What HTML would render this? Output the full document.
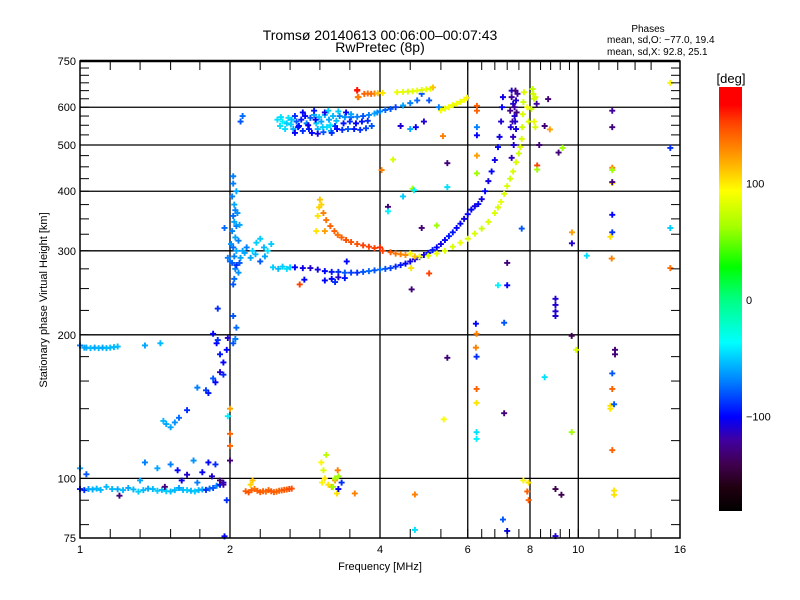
<!DOCTYPE html>
<html><head><meta charset="utf-8">
<style>
html,body{margin:0;padding:0;background:#fff;}
svg{display:block;font-family:"Liberation Sans",sans-serif;}
</style></head>
<body>
<svg id="chart" width="800" height="600" viewBox="0 0 800 600" xmlns="http://www.w3.org/2000/svg">
<defs>
<linearGradient id="cbgrad" x1="0" y1="0" x2="0" y2="1">
<stop offset="0" stop-color="#ff0000"/>
<stop offset="0.042" stop-color="#ff0000"/>
<stop offset="0.083" stop-color="#ff4000"/>
<stop offset="0.167" stop-color="#ffa000"/>
<stop offset="0.244" stop-color="#ffff00"/>
<stop offset="0.333" stop-color="#a0ff00"/>
<stop offset="0.425" stop-color="#00ff00"/>
<stop offset="0.5" stop-color="#00ff80"/>
<stop offset="0.603" stop-color="#00ffff"/>
<stop offset="0.694" stop-color="#0080ff"/>
<stop offset="0.778" stop-color="#0000ff"/>
<stop offset="0.833" stop-color="#4000a0"/>
<stop offset="0.889" stop-color="#400050"/>
<stop offset="0.944" stop-color="#200010"/>
<stop offset="1" stop-color="#000000"/>
</linearGradient>
</defs>
<text x="380" y="40" font-size="14" text-anchor="middle">Tromsø 20140613 00:06:00–00:07:43</text>
<text x="380" y="52" font-size="14" text-anchor="middle">RwPretec (8p)</text>
<text x="648" y="32" font-size="10" text-anchor="middle">Phases</text>
<text x="607" y="43" font-size="10">mean, sd,O: −77.0, 19.4</text>
<text x="607" y="55" font-size="10">mean, sd,X:  92.8, 25.1</text>
<g id="grid"></g>
<g id="marks"></g>
<g id="axes"></g>
<text x="380" y="570" font-size="11" text-anchor="middle">Frequency [MHz]</text>
<text transform="translate(47,300) rotate(-90)" font-size="11" text-anchor="middle">Stationary phase Virtual Height [km]</text>
<rect x="719" y="87" width="23" height="424" fill="url(#cbgrad)"/>
<text x="731" y="83" font-size="13" text-anchor="middle">[deg]</text>
<g id="cbticks"></g>
</svg>
<script>
const xTickValues=[1,2,4,6,8,10,16];
const xMinorTicks=[1.15,1.32,1.52,1.74,2.3,2.64,3.03,3.48,4.6,5.3,6.4,6.8,7.2,7.6,8.4,8.8,9.2,9.6,11,12,13,14];
const yTickValues=[75,100,200,300,400,500,600,750];
const yGridValues=[100,200,300,400,500,600];
const xGridValues=[2,4,6,8,10];
const yMinorTicks=[80,90,120,140,160,180,225,250,275,325,350,375,425,450,475,525,550,575,625,650,675,700,725];
const cbTickValues=[100,0,-100];

// [freq MHz, height km, phase deg]
const eLayerTrace=[[1.00,95,-95],[1.02,94.5,-90],[1.04,95,-60],[1.06,94.8,-58],[1.08,95.2,-55],[1.10,94.6,-55],[1.13,96,-55],[1.16,95,-55],[1.19,94.9,-58],[1.22,94.5,-55],[1.25,95.5,-60],[1.28,94.8,-55],[1.31,93.8,-50],[1.34,94.5,-55],[1.37,95.2,-60],[1.40,95,-55],[1.43,94.2,-50],[1.46,94.6,-55],[1.49,94,-50],[1.52,93.9,-55],[1.55,94.5,-55],[1.58,95.5,-60],[1.61,94.6,-55],[1.64,94.5,-50],[1.67,94.2,-55],[1.70,93.9,-50],[1.73,94.5,-55],[1.76,94.8,-60],[1.79,94.6,-90],[1.82,95.2,-75],[1.85,95.5,-80],[1.88,96.5,-70],[1.91,97,-95],[1.94,98,-110]];
const eScatter=[[1.43,105,-60],[1.52,107,-70],[1.57,104,-100],[1.64,101.8,-110],[1.69,109,-65],[1.72,98,-70],[1.81,108,-100],[1.87,107,-90],[1.84,101,-110],[1.91,99,-130],[1.94,97,-120],[1.35,108,-70],[1.32,99,-60],[1.20,92,-130],[1.48,96,-130],[1.0,105,-60],[1.03,102,-80],[1.76,103,-100],[1.6,99,-105],[1.97,90,-90],[1.95,75.6,-100]];
const eOrangeTrace=[[2.15,94,140],[2.18,93.5,145],[2.21,94.5,140],[2.24,95,135],[2.27,94.2,140],[2.30,93.6,142],[2.33,94,140],[2.36,93.8,138],[2.39,94.5,140],[2.42,94,142],[2.45,93.6,140],[2.48,93.8,140],[2.51,94.2,138],[2.54,94.4,140],[2.57,94.6,145],[2.60,94.8,140],[2.63,95,148],[2.66,95.2,145],[2.2,97,105],[2.22,99,110]];
const esYellow=[[3.05,108,95],[3.08,104,80],[3.1,100,100],[3.06,98,95],[3.15,97,100],[3.2,96,115],[3.12,112,70],[3.25,99,120],[3.3,101,60],[3.35,98,-90],[3.28,93,100],[3.56,93,130],[3.29,104,130]];
const h190Trace=[[1.00,190,-70],[1.02,188,-60],[1.03,188,-60],[1.05,187.5,-55],[1.07,188,-60],[1.09,187.5,-55],[1.11,188,-60],[1.13,187.5,-55],[1.15,188,-55],[1.17,188.5,-55],[1.19,189,-55],[1.35,190,-60],[1.45,192,-55]];
const diagonalTrace=[[1.49,130,-60],[1.47,132,-55],[1.52,128,-60],[1.55,131,-65],[1.58,134,-75],[1.64,139,-90],[1.72,155,-70],[1.79,153,-85],[1.81,151,-95],[1.85,162,-80],[1.87,159,-100],[1.91,167,-110],[1.94,165,-90],[1.94,175,-100],[1.91,182,-95],[1.88,192,-100],[1.89,195,-90],[1.97,186,-100],[1.85,201,-100],[1.98,197,-110],[2.03,192,-80],[2.05,196,-70],[2.06,207,-75],[2.03,219,-80],[1.89,227,-90]];
const fCuspTrace=[[2.03,430,-70],[2.03,415,-70],[2.06,400,-60],[2.02,390,-70],[2.04,375,-60],[2.05,365,-70],[2.03,355,-75],[2.04,345,-60],[2.06,338,-70],[2.02,330,-70],[2.05,320,-60],[2.08,315,-70],[2.03,305,-75],[2.06,300,-60],[2.04,292,-70],[2.10,290,-60],[2.02,283,-80],[2.05,275,-70],[2.08,270,-65],[2.04,262,-75],[2.03,255,-80],[2.06,280,-90],[2.12,300,-60],[2.14,297,-60],[2.16,305,-70],[2.0,285,-75],[1.98,290,-70],[2.09,283,-80],[2.22,300,-50],[2.26,312,-50],[2.3,318,-50],[2.34,305,-55],[2.38,300,-45],[2.42,310,-50],[2.2,290,-60],[2.3,285,-80],[2.44,277,-50],[2.5,275,-55],[2.55,278,-50],[2.6,275,-45],[2.64,277,-50],[2.07,360,-65],[2.09,340,-60],[2.01,310,-65],[2.25,295,-55],[2.35,292,-60]];
const oTrace=[[2.70,277,-100],[2.80,276,-105],[2.90,276,-110],[3.0,274,-105],[3.1,272,-100],[3.2,271,-95],[3.3,271,-90],[3.4,270,-80],[3.5,270,-85],[3.6,270,-90],[3.7,271,-80],[3.8,272,-75],[3.9,273,-80],[4.0,274,-75],[4.1,275,-80],[4.2,276,-85],[4.3,278,-90],[4.4,280,-95],[4.5,282,-100],[4.6,285,-105],[4.7,288,-110],[4.8,291,-110],[4.9,294,-105],[5.0,297,-100],[5.1,301,-95],[5.2,305,-100],[5.3,310,-105],[5.4,316,-100],[5.5,322,-95],[5.6,328,-95],[5.7,335,-100],[5.8,342,-100],[5.9,350,-105],[6.0,358,-100],[6.1,366,-100],[6.2,372,-105],[6.3,376,-100],[6.4,385,-105],[6.5,400,-100],[6.6,420,-105],[6.7,440,-100],[6.8,465,-105],[6.9,495,-100],[6.95,520,-105],[7.0,560,-110],[7.03,600,-100],[7.06,630,-105],[3.2,262,-100],[3.3,264,-110],[3.4,263,-95],[3.1,260,-100],[3.25,258,-90]];
const xTrace=[[4.6,296,90],[4.8,292,85],[5.0,293,80],[5.2,296,85],[5.4,300,80],[5.6,306,80],[5.8,312,85],[6.0,318,80],[6.2,326,80],[6.4,334,75],[6.6,345,80],[6.8,360,80],[6.9,370,80],[7.0,380,85],[7.1,395,80],[7.2,410,80],[7.3,425,75],[7.4,440,80],[7.5,460,80],[7.6,480,75],[7.65,495,80],[7.7,515,80],[7.72,545,75],[7.74,580,80],[7.76,615,75],[7.78,645,80],[4.2,298,140],[4.3,296,135],[4.4,295,130],[4.5,294,125],[4.7,292,110]];
const orangeTrace=[[3.03,384,110],[3.05,375,105],[3.08,360,130],[3.12,348,135],[3.18,338,140],[3.24,330,140],[3.29,324,135],[3.35,320,140],[3.42,316,145],[3.5,313,145],[3.6,310,145],[3.7,308,150],[3.8,306,150],[3.9,304,150],[4.0,305,155],[4.05,300,150],[2.98,330,100],[3.0,355,100],[3.02,370,105],[3.1,330,120]];
const upperBand=[[2.49,565,-45],[2.52,548,-45],[2.55,560,-40],[2.58,540,-45],[2.62,570,-45],[2.65,552,-50],[2.68,540,-60],[2.70,575,-90],[2.72,560,-80],[2.75,548,-100],[2.78,565,-95],[2.80,535,-90],[2.83,575,-100],[2.85,555,-70],[2.88,540,-95],[2.90,570,-80],[2.92,530,-100],[2.95,578,-60],[2.98,555,-50],[3.00,540,-55],[3.02,572,-50],[3.05,560,-60],[3.08,532,-80],[3.10,578,-55],[3.13,545,-45],[3.16,565,-60],[3.19,535,-60],[3.22,575,-55],[3.25,548,-90],[3.28,540,-100],[3.32,575,-70],[3.36,538,-90],[3.40,572,-65],[3.45,540,-80],[3.50,572,-75],[3.55,540,-95],[3.60,573,-70],[3.65,538,-90],[3.70,575,-80],[3.75,542,-85],[3.80,578,-70],[3.85,548,-80],[3.90,582,-60],[3.95,585,-65],[4.0,588,-70],[4.1,592,-75],[4.2,595,-80],[4.3,600,-85],[4.45,605,-60],[4.6,612,-70],[4.75,620,-75],[4.85,640,-80],[2.8,585,-100],[2.95,590,-95],[3.1,585,-105],[3.3,588,-50],[3.5,580,-60],[2.7,530,-100],[3.0,528,-105],[3.2,530,-90],[2.6,555,-50],[2.74,545,-95],[2.87,550,-105],[2.97,565,-100],[3.07,545,-50],[3.18,550,-45],[3.27,562,-55],[3.38,555,-95],[3.48,560,-90],[3.58,555,-100],[3.68,560,-95],[3.78,562,-90],[2.53,572,-45],[2.66,565,-55],[3.15,590,-50],[3.42,585,-100]];
const topLine=[[3.72,640,140],[3.78,641,135],[3.84,640,140],[3.9,641,130],[3.96,642,110],[4.05,643,100],[4.33,645,85],[4.45,646,85],[4.55,647,80],[4.65,648,82],[4.75,650,85],[4.85,652,80],[4.95,654,85],[5.05,656,80],[5.11,660,110],[3.6,650,160],[3.62,630,140]];
const xUpperLine=[[5.3,591,90],[5.4,596,85],[5.5,600,90],[5.6,606,85],[5.7,610,90],[5.8,616,85],[5.9,622,90],[5.98,628,95]];
const columnPoints=[[7.35,650,-110],[7.35,630,-120],[7.4,610,-110],[7.3,590,-125],[7.45,575,-110],[7.38,560,-120],[7.32,545,-110],[7.4,520,-115],[7.42,500,-110],[7.48,650,-130],[7.5,620,-110],[7.45,600,-120],[7.52,585,-130],[7.47,560,-110],[7.35,470,-115],[7.55,640,-120],[7.5,540,-105],[8.1,655,70],[8.12,640,75],[8.15,625,70],[8.2,630,80],[8.05,595,75],[8.15,560,85],[8.2,545,80],[8.25,610,-120],[8.35,500,-130],[7.9,600,90],[7.95,560,80]];
const scatterPoints=[[15.3,675,95],[15.3,493,-90],[15.3,335,-50],[15.3,276,135],[11.7,590,-120],[11.7,545,-130],[11.7,448,130],[11.7,416,100],[11.7,114.6,140],[11.8,94.3,100],[11.85,186,-130],[11.7,166,-80],[11.6,142,100],[8.7,624,-130],[8.56,548,-130],[8.77,539,120],[9.3,493,60],[9.13,482,-130],[8.27,453,150],[8.27,444,60],[7.7,334,-80],[9.71,328,120],[9.71,311,-110],[10.4,293,-45],[11.67,289,130],[11.7,328,-90],[11.6,321,100],[11.7,357,-100],[11.7,418,-130],[11.7,443,60],[7.2,283,-130],[6.9,254,-40],[7.2,254,-100],[9.0,238,-110],[9.0,231,-110],[9.0,224,-110],[9.0,219,-110],[6.23,211,-100],[6.25,201,130],[6.23,188,130],[6.25,180,-90],[5.46,179,-130],[7.1,212,-80],[9.7,199,-140],[9.9,186,80],[11.85,182,-130],[8.56,163,-45],[6.25,154,140],[6.25,144,100],[7.1,137,-130],[5.37,133,90],[6.25,125,-45],[6.25,121,-40],[9.7,125,60],[11.7,154,140],[11.8,143,-80],[11.6,140,100],[7.76,99,95],[7.9,93.9,140],[9.0,95,-140],[11.8,92.4,100],[7.06,82,-80],[9.0,75.7,-110],[6.26,604,140],[6.26,590,140],[6.26,545,-70],[6.26,524,-100],[6.26,475,120],[6.26,436,60],[5.46,458,-130],[5.46,408,-45],[5.35,522,130],[4.25,466,80],[4.03,443,130],[4.15,371,-130],[4.15,363,-40],[4.45,390,-50],[4.65,405,60],[4.68,402,-40],[4.85,335,-130],[5.2,339,60],[4.63,249,-130],[5.02,269,150],[4.62,276,100],[2.76,255,150],[2.82,261,-100],[3.43,285,-100],[4.72,545,-100],[3.6,652,160],[3.61,630,130],[4.7,92.5,130],[4.7,78,-45],[7.2,77.6,-100],[7.95,98,100],[7.95,90,140],[9.25,92.4,-140],[3.28,93,100],[3.25,100,60],[3.22,96,60],[3.3,95,-100],[2.0,140,120],[2.0,124,140],[2.0,117,140],[2.0,109,-130],[1.98,135,-40],[2.1,560,-80],[2.12,575,-75],[1.95,335,-75],[5.02,620,-80],[5.25,600,-70],[4.9,560,-110],[4.6,540,-60],[4.4,548,-110]];

const X0=80,X1=680,Y0=538,Y1=61;
function xScale(f){return X0+(X1-X0)*Math.log2(f)/4;}
function yScale(h){return Y0-(Y0-Y1)*Math.log10(h/75);}
const cStops=[[-180,[0,0,0]],[-160,[32,0,16]],[-140,[64,0,80]],[-120,[64,0,160]],[-100,[0,0,255]],[-70,[0,128,255]],[-37,[0,255,255]],[0,[0,255,128]],[27,[0,255,0]],[60,[160,255,0]],[92,[255,255,0]],[120,[255,160,0]],[150,[255,64,0]],[165,[255,0,0]],[180,[255,0,0]]];
function colorFor(p){
  p=Math.max(-180,Math.min(180,p));
  for(let i=0;i<cStops.length-1;i++){
    const a=cStops[i],b=cStops[i+1];
    if(p>=a[0]&&p<=b[0]){const t=(p-a[0])/(b[0]-a[0]);
      const c=a[1].map((v,k)=>Math.round(v+(b[1][k]-v)*t));return 'rgb('+c.join(',')+')';}
  }
  return '#000';
}
const NS='http://www.w3.org/2000/svg';
function mk(tag,attrs,parent){const e=document.createElementNS(NS,tag);for(const k in attrs)e.setAttribute(k,attrs[k]);parent.appendChild(e);return e;}
const grid=document.getElementById('grid'),axes=document.getElementById('axes'),marks=document.getElementById('marks'),cbt=document.getElementById('cbticks');

xGridValues.forEach(v=>{const x=xScale(v);
  const l=mk('line',{x1:x,y1:Y1,x2:x,y2:Y0,stroke:'#000','stroke-width':1.3},grid);
  
  });
yGridValues.forEach(v=>{const y=yScale(v);
  const l=mk('line',{x1:X0,y1:y,x2:X1,y2:y,stroke:'#000','stroke-width':1.3},grid);
  
  });

const groups=[['e-layer-trace',eLayerTrace],['e-scatter',eScatter],['e-orange-trace',eOrangeTrace],['es-yellow',esYellow],['h190-trace',h190Trace],['diagonal-trace',diagonalTrace],['f-cusp-trace',fCuspTrace],['o-mode-trace',oTrace],['x-mode-trace',xTrace],['orange-trace',orangeTrace],['upper-band',upperBand],['top-line',topLine],['x-upper-line',xUpperLine],['column-points',columnPoints],['scatter-points',scatterPoints]];
groups.forEach(([name,arr])=>{
  const g=mk('g',{},marks);
  
  
  arr.forEach(pt=>{const x=xScale(pt[0]),y=yScale(pt[1]);
    const p=mk('path',{d:'M'+(x-3)+' '+y+'h6M'+x+' '+(y-3)+'v6',stroke:colorFor(pt[2]),'stroke-width':1.9,fill:'none'},g);
    
    });
});

const frame=mk('rect',{x:X0,y:Y1,width:X1-X0,height:Y0-Y1,fill:'none',stroke:'#000','stroke-width':1.5},axes);


mk('line',{x1:X0,y1:Y1,x2:X1,y2:Y1,stroke:'#000','stroke-width':2.5},axes);
xTickValues.concat(xMinorTicks).forEach(v=>{const x=xScale(v);
  mk('line',{x1:x,y1:Y0,x2:x,y2:Y0-9,stroke:'#000','stroke-width':1},axes);
  mk('line',{x1:x,y1:Y1,x2:x,y2:Y1+9,stroke:'#000','stroke-width':1},axes);});
xTickValues.forEach(v=>{
  const t=mk('text',{x:xScale(v),y:553,'font-size':11,'text-anchor':'middle'},axes);t.textContent=v;
  
  });
yTickValues.concat(yMinorTicks).forEach(v=>{const y=yScale(v);
  mk('line',{x1:X0,y1:y,x2:X0+9,y2:y,stroke:'#000','stroke-width':1},axes);
  mk('line',{x1:X1,y1:y,x2:X1-9,y2:y,stroke:'#000','stroke-width':1},axes);});
yTickValues.forEach(v=>{
  const t=mk('text',{x:76,y:yScale(v)+4,'font-size':11,'text-anchor':'end'},axes);t.textContent=v;
  
  });
cbTickValues.forEach(v=>{const y=300-v*1.165;
  const t=mk('text',{x:746,y:y+4,'font-size':11},cbt);t.textContent=v<0?'−'+(-v):v;
  
  });
</script>
</body></html>
